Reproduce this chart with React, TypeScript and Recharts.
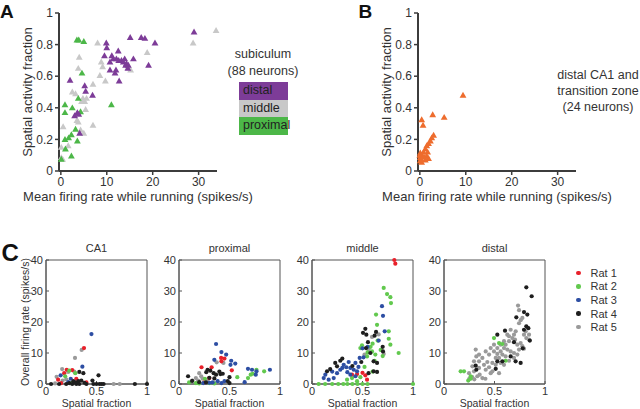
import React from "react";
import { ScatterChart, Scatter, XAxis, YAxis, ReferenceArea } from "recharts";

const FONT = '"Liberation Sans", Arial, Helvetica, sans-serif';

// A: subiculum, [mean firing rate while running, spatial activity fraction]
const subDistal: [number, number][] = [
  [29.0, 0.88], [17.5, 0.845], [18.3, 0.84], [15.1, 0.845], [20.5, 0.81], [9.9, 0.81],
  [10.0, 0.78], [9.5, 0.73], [12.5, 0.76], [11.1, 0.73], [11.4, 0.71], [12.1, 0.71],
  [12.6, 0.7], [13.2, 0.7], [13.9, 0.71], [13.6, 0.69], [14.3, 0.68], [14.1, 0.67],
  [14.7, 0.67], [14.6, 0.65], [15.8, 0.71], [19.1, 0.67], [10.7, 0.69], [10.7, 0.64],
  [12.0, 0.64], [11.8, 0.62], [12.7, 0.57], [2.0, 0.575], [5.2, 0.54], [5.4, 0.505],
  [6.9, 0.48], [3.6, 0.37], [3.0, 0.35], [3.9, 0.36], [4.1, 0.24],
];
const subMiddle: [number, number][] = [
  [33.8, 0.89], [28.8, 0.81], [8.0, 0.81], [18.8, 0.75], [4.0, 0.72], [8.8, 0.69],
  [9.1, 0.66], [3.8, 0.65], [8.5, 0.605], [9.7, 0.57], [7.0, 0.55], [2.5, 0.5],
  [3.2, 0.49], [4.8, 0.46], [5.6, 0.46], [4.5, 0.44], [5.2, 0.44], [5.4, 0.39],
  [0.5, 0.28], [3.8, 0.31], [3.5, 0.32], [4.3, 0.26], [5.0, 0.24], [7.0, 0.29],
  [0.1, 0.15], [1.6, 0.16], [0.1, 0.085], [0.4, 0.075], [15.2, 0.64], [14.6, 0.655],
];
const subProximal: [number, number][] = [
  [3.5, 0.83], [3.9, 0.83], [5.0, 0.82], [4.6, 0.62], [11.0, 0.42], [0.9, 0.42],
  [0.9, 0.37], [2.5, 0.4], [3.8, 0.46], [4.3, 0.375], [3.2, 0.265], [2.3, 0.23],
  [1.7, 0.21], [0.9, 0.2], [3.6, 0.19], [1.0, 0.14], [2.3, 0.095], [0.1, 0.075],
];

// B: distal CA1 and transition zone
const ca1Transition: [number, number][] = [
  [9.4, 0.48], [2.8, 0.357], [5.3, 0.34], [0.4, 0.325], [0.7, 0.29], [3.0, 0.227],
  [2.6, 0.21], [2.3, 0.19], [1.9, 0.175], [1.5, 0.16], [1.2, 0.14], [0.8, 0.12],
  [0.1, 0.115], [0.4, 0.1], [1.5, 0.095], [1.9, 0.08], [1.2, 0.07], [0.1, 0.065],
  [0.4, 0.055], [0.1, 0.085], [0.0, 0.1], [0.9, 0.09], [0.3, 0.075], [1.7, 0.12],
];

// C: [spatial fraction, overall firing rate] per rat
const rats = ["Rat 1", "Rat 2", "Rat 3", "Rat 4", "Rat 5"];
const ratColors = ["#e8202a", "#62c94e", "#2d4ea3", "#1e1e1e", "#9a9a9a"];
const drawOrder = [4, 0, 1, 2, 3];

const ca1Rats: [number, number][][] = [
  [[0.376, 11.6], [0.205, 4.6], [0.26, 4.5], [0.18, 3.5], [0.12, 1.4], [0.3, 1.7], [0.4, 0.5], [0.15, 0.3]],
  [[0.23, 4.3], [0.29, 3.5], [0.19, 2.5], [0.25, 0.3]],
  [[0.45, 16.1], [0.36, 5.6], [0.145, 2.8], [0.245, 1.7], [0.22, 0.6]],
  [[0.33, 3.9], [0.37, 3.5], [0.52, 2.8], [0.46, 1.1], [0.27, 0.9], [0.32, 0.9], [0.35, 1.1], [0.05, 0],
   [0.13, 0], [0.2, 0], [0.23, 0.3], [0.26, 0], [0.3, 0], [0.33, 0], [0.4, 0], [0.47, 0], [0.5, 0],
   [0.53, 0], [0.55, 0], [0.57, 0], [0.88, 0], [1.0, 0], [0.29, 0.5], [0.38, 0.4]],
  [[0.353, 11.0], [0.287, 8.4], [0.16, 4.8], [0.22, 3.9], [0.105, 2.3], [0.165, 1.1], [0.67, 0], [0.73, 0],
   [0.09, 0.2], [0.2, 1.5], [0.28, 4.0]],
];
const proximalRats: [number, number][][] = [
  [[0.417, 8.4], [0.45, 8.2], [0.523, 4.4], [0.223, 5.4], [0.323, 5.4], [0.3, 1.9], [0.25, 0.5], [0.42, 7.3]],
  [[0.767, 4.6], [0.843, 4.1], [0.71, 3.0], [0.683, 1.9], [0.577, 2.2], [0.1, 0.5], [0.257, 1.7], [0.167, 0.3],
   [0.73, 3.3], [0.2, 0.2], [0.3, 0.3], [0.35, 0.2]],
  [[0.367, 12.9], [0.42, 10.3], [0.467, 9.5], [0.35, 7.8], [0.517, 7.5], [0.51, 6.2], [0.557, 6.6], [0.683, 4.9],
   [0.723, 4.6], [0.767, 4.1], [0.76, 3.0], [0.9, 4.6], [0.65, 0.6], [0.383, 0.9], [0.45, 0.9], [0.333, 0.5],
   [0.42, 0.3], [0.3, 0.4], [0.24, 0.3]],
  [[0.283, 4.6], [0.31, 4.3], [0.343, 3.5], [0.367, 3.0], [0.41, 3.2], [0.433, 3.3], [0.5, 2.2], [0.09, 2.5],
   [0.483, 0.9], [0.267, 0.5], [0.5, 0.3], [0.3, 2.0], [0.35, 1.8], [0.27, 3.8], [0.4, 4.0], [0.13, 1.0], [0.2, 0.6]],
  [[0.373, 7.0], [0.44, 6.8], [0.2, 3.5], [0.167, 1.9], [0.19, 1.1], [0.283, 0.9], [0.133, 1.1], [0.233, 1.7],
   [0.18, 0.4], [0.22, 2.5]],
];
const middleRats: [number, number][][] = [
  [[0.815, 40], [0.825, 38.8], [0.446, 3.2], [0.528, 2.8], [0.545, 1.4], [0.396, 3.0], [0.5, 3.6]],
  [[0.71, 31], [0.743, 29], [0.776, 28], [0.782, 26.1], [0.634, 22.4], [0.644, 19.1], [0.76, 17], [0.76, 14.6],
   [0.858, 10], [0.776, 12.7], [0.495, 12.5], [0.479, 11.6], [0.594, 10.5], [0.627, 9.5], [0.545, 8.9],
   [0.347, 1.4], [0.396, 1.9], [0.479, 2.2], [0.446, 0.9], [0.066, 0], [0.13, 0], [0.2, 0], [0.26, 0],
   [0.31, 0], [0.35, 0], [0.4, 0], [0.45, 0], [0.5, 0], [0.55, 0], [1.0, 0], [0.58, 12], [0.6, 13],
   [0.65, 14], [0.68, 11], [0.55, 10.2], [0.7, 9], [0.62, 7.5], [0.52, 5.5], [0.6, 4]],
  [[0.693, 25.1], [0.703, 22], [0.72, 17], [0.51, 8.6], [0.472, 8.4], [0.43, 6.8], [0.363, 7.1], [0.314, 6.2],
   [0.132, 3.0], [0.116, 1.9], [0.165, 1.4], [0.215, 1.9], [0.248, 3.5], [0.28, 4.6], [0.38, 5.2], [0.413, 4.6],
   [0.446, 4.1], [0.43, 2.5], [0.38, 3.0], [0.34, 5.4], [0.55, 12], [0.5, 11.5], [0.2, 4], [0.3, 5.2],
   [0.35, 3.8], [0.46, 5.5], [0.66, 14]],
  [[0.528, 17.8], [0.505, 16.5], [0.538, 15.9], [0.634, 16.8], [0.62, 15.6], [0.554, 13.5], [0.535, 11.6],
   [0.578, 10], [0.703, 10.5], [0.61, 7.3], [0.644, 6.8], [0.488, 7.1], [0.28, 7.5], [0.23, 6.8], [0.248, 5.7],
   [0.149, 4.1], [0.56, 3.5], [0.61, 4.1], [0.644, 3.9], [0.18, 4.8], [0.3, 8.2], [0.4, 5.8], [0.7, 12]],
  [[0.594, 15.2], [0.56, 11.1], [0.71, 9.7], [0.66, 16], [0.52, 9.5]],
];
const distalRats: [number, number][][] = [
  [],
  [[0.495, 14.8], [0.545, 13.2], [0.578, 12.9], [0.61, 7.5], [0.165, 4.1], [0.198, 4.1], [0.264, 2.5],
   [0.24, 1.1], [0.264, 1.7]],
  [],
  [[0.815, 31.2], [0.868, 28.3], [0.792, 23.2], [0.825, 22.4], [0.716, 21.5], [0.604, 17.2], [0.528, 15.9],
   [0.815, 18.6], [0.835, 18], [0.792, 17.5], [0.693, 13.5], [0.528, 7.3], [0.578, 7.3], [0.709, 7.3],
   [0.759, 6.8], [0.66, 8.9], [0.512, 4.9], [0.314, 5.9], [0.32, 4.6], [0.85, 14], [0.78, 11.5]],
  [[0.733, 25.3], [0.743, 23.8], [0.627, 15.9], [0.446, 9.5], [0.347, 9.5], [0.314, 11.1], [0.38, 1.9],
   [0.41, 1.7], [0.353, 3.0], [0.462, 3.5], [0.479, 4.1], [0.545, 3.5], [0.413, 4.6], [0.446, 5.4],
   [0.396, 6.2], [0.429, 7.1], [0.479, 6.8], [0.512, 8.4], [0.528, 9.7], [0.561, 10.5], [0.594, 11.6],
   [0.61, 12.7], [0.644, 13.8], [0.677, 14.8], [0.693, 15.9], [0.71, 17], [0.66, 17.5], [0.743, 19.6],
   [0.759, 20.6], [0.776, 21.3], [0.792, 15.9], [0.815, 14.8], [0.842, 14.3], [0.627, 11.1], [0.66, 10.5],
   [0.693, 10], [0.726, 9.5], [0.743, 11.1], [0.776, 12.2], [0.578, 9.5], [0.545, 8.4], [0.61, 8.9],
   [0.495, 10.5], [0.462, 11.6], [0.413, 10.5], [0.38, 8.4], [0.347, 7.3], [0.281, 5.7], [0.297, 4.1],
   [0.33, 2.5], [0.248, 3.5], [0.512, 6.2], [0.561, 6.8], [0.594, 6.2], [0.644, 7.5], [0.693, 8.4],
   [0.726, 12.7], [0.703, 14.3], [0.759, 13.2], [0.809, 17], [0.644, 15.4], [0.594, 13.8], [0.561, 12.7],
   [0.528, 11.6], [0.495, 12.7], [0.347, 5.2], [0.297, 7.3], [0.32, 8.9], [0.792, 11.4], [0.842, 15.9],
   [0.28, 2.2], [0.3, 1.5], [0.25, 1.7]],
];

const regions = ["CA1", "proximal", "middle", "distal"];
const regionRats = [ca1Rats, proximalRats, middleRats, distalRats];
const regionBoxLeft = [46, 179, 312, 444];

const subGroups = ["distal", "middle", "proximal"];
const subColors = ["#7d3c98", "#c8c8c8", "#4cb748"];

const toPts = (arr: [number, number][]) => arr.map(([x, y]) => ({ x, y }));

const AXIS = "#3c3c3c";
const TXT = "#333";

// small markers drawn at the scaled point position
const triangleShape = (props: any) => {
  const { cx, cy, fill } = props;
  const s = 3.4;
  return <polygon points={`${cx},${cy - s} ${cx + s},${cy + s * 0.75} ${cx - s},${cy + s * 0.75}`} fill={fill} />;
};
const dotShape = (props: any) => <circle cx={props.cx} cy={props.cy} r={2.1} fill={props.fill} />;

function FractionPanel({ left, groups }: { left: number; groups: { data: [number, number][]; color: string }[] }) {
  return (
    <div style={{ position: "absolute", left, top: 0 }}>
      <ScatterChart width={280} height={205} margin={{ top: 13, right: 63, left: 0, bottom: 0 }}>
        <XAxis
          type="number"
          dataKey="x"
          domain={[-0.4, 34]}
          ticks={[0, 10, 20, 30]}
          height={34}
          axisLine={{ stroke: AXIS, strokeWidth: 2 }}
          tickLine={{ stroke: AXIS, strokeWidth: 1.5 }}
          tickSize={4}
          tickMargin={2}
          tick={{ fontSize: 12, fill: TXT }}
          label={{ value: "Mean firing rate while running (spikes/s)", position: "insideBottom", offset: 4, fontSize: 13, fill: TXT }}
        />
        <YAxis
          type="number"
          dataKey="y"
          domain={[0, 1]}
          ticks={[0, 0.2, 0.4, 0.6, 0.8, 1]}
          width={59}
          axisLine={{ stroke: AXIS, strokeWidth: 2 }}
          tickLine={{ stroke: AXIS, strokeWidth: 1.5 }}
          tickSize={4}
          tickMargin={2}
          tick={{ fontSize: 12, fill: TXT }}
          label={{ value: "Spatial activity fraction", angle: -90, position: "insideLeft", offset: 27, fontSize: 13, fill: TXT, style: { textAnchor: "middle" } }}
        />
        {groups.map((g, i) => (
          <Scatter key={i} data={toPts(g.data)} fill={g.color} shape={triangleShape} isAnimationActive={false} />
        ))}
      </ScatterChart>
    </div>
  );
}

function RatPanel({ boxLeft, data, yLabel }: { boxLeft: number; data: [number, number][][]; yLabel: boolean }) {
  const BOX = "#555";
  return (
    <div style={{ position: "absolute", left: boxLeft - 46, top: 250 }}>
      <ScatterChart width={156} height={160} margin={{ top: 10, right: 9, left: 0, bottom: 0 }}>
        <ReferenceArea x1={0} x2={1} y1={0} y2={40} fill="none" stroke={BOX} strokeWidth={1} ifOverflow="visible" />
        <XAxis
          type="number"
          dataKey="x"
          domain={[0, 1]}
          ticks={[0, 0.5, 1]}
          height={26}
          axisLine={{ stroke: BOX }}
          tickLine={{ stroke: BOX }}
          tickSize={-3}
          tickMargin={6.5}
          tick={{ fontSize: 11, fill: TXT }}
          label={{ value: "Spatial fraction", position: "insideBottom", offset: 3.5, fontSize: 10.5, fill: TXT }}
        />
        <YAxis
          type="number"
          dataKey="y"
          domain={[0, 40]}
          ticks={[0, 10, 20, 30, 40]}
          width={46}
          axisLine={{ stroke: BOX }}
          tickLine={{ stroke: BOX }}
          tickSize={-3}
          tickMargin={6}
          tick={{ fontSize: 11, fill: TXT }}
          label={
            yLabel
              ? { value: "Overall firing rate (spikes/s)", angle: -90, position: "insideLeft", offset: 25, fontSize: 10.5, fill: TXT, style: { textAnchor: "middle" } }
              : undefined
          }
        />
        {drawOrder.map((r) => (
          <Scatter key={r} data={toPts(data[r])} fill={ratColors[r]} shape={dotShape} isAnimationActive={false} />
        ))}
      </ScatterChart>
    </div>
  );
}

export default function App() {
  const abs = (s: React.CSSProperties): React.CSSProperties => ({ position: "absolute", ...s });
  return (
    <div style={{ position: "absolute", left: 0, top: 0, width: 640, height: 409, overflow: "hidden", background: "#fff", fontFamily: FONT, color: TXT }}>
      <div style={abs({ left: 0, top: 2, fontSize: 19, fontWeight: "bold", lineHeight: 1, color: "#111" })}>A</div>
      <div style={abs({ left: 358.5, top: 2, fontSize: 19, fontWeight: "bold", lineHeight: 1, color: "#111" })}>B</div>
      <div style={abs({ left: 1.5, top: 240.5, fontSize: 24, fontWeight: "bold", lineHeight: 1, color: "#111" })}>C</div>

      <FractionPanel
        left={0}
        groups={[
          { data: subMiddle, color: subColors[1] },
          { data: subProximal, color: subColors[2] },
          { data: subDistal, color: subColors[0] },
        ]}
      />
      <FractionPanel left={359} groups={[{ data: ca1Transition, color: "#ee6c2d" }]} />

      <div style={abs({ left: 203, top: 46, width: 120, textAlign: "center", fontSize: 12.5, lineHeight: "16px" })}>subiculum</div>
      <div style={abs({ left: 203, top: 63, width: 120, textAlign: "center", fontSize: 12.5, lineHeight: "16px" })}>(88 neurons)</div>
      {subGroups.map((g, i) => (
        <div
          key={g}
          style={abs({ left: 239, top: 82 + i * 17.7, width: 49, height: 17.7, background: subColors[i], fontSize: 12.5, lineHeight: "17.7px", paddingLeft: 4, boxSizing: "border-box", color: "#222" })}
        >
          {g}
        </div>
      ))}

      <div style={abs({ left: 538, top: 67, width: 120, textAlign: "center", fontSize: 12.5, lineHeight: "16px" })}>
        distal CA1 and
        <br />
        transition zone
        <br />
        (24 neurons)
      </div>

      {regions.map((name, i) => (
        <div key={name} style={abs({ left: regionBoxLeft[i] + 50.5 - 60, top: 243, width: 120, textAlign: "center", fontSize: 11, lineHeight: "11px" })}>
          {name}
        </div>
      ))}
      {regions.map((name, i) => (
        <RatPanel key={name} boxLeft={regionBoxLeft[i]} data={regionRats[i]} yLabel={i === 0} />
      ))}

      {rats.map((r, i) => (
        <div key={r} style={abs({ left: 576, top: 266 + i * 13.6, height: 13.6, display: "flex", alignItems: "center", fontSize: 11 })}>
          <span style={{ display: "inline-block", width: 4.5, height: 4.5, borderRadius: "50%", background: ratColors[i], marginRight: 10 }} />
          {r}
        </div>
      ))}
    </div>
  );
}
